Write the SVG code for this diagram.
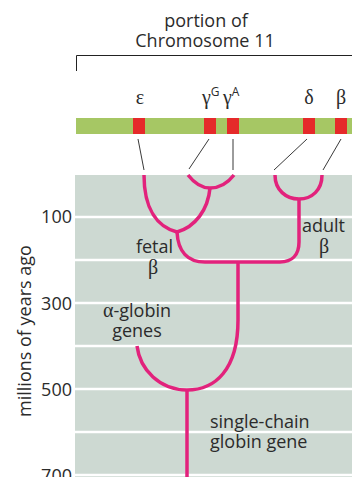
<svg xmlns="http://www.w3.org/2000/svg" width="352" height="477" viewBox="0 0 352 477">
<style>
text{font-family:"Open Sans","Liberation Sans",sans-serif;font-size:18px;fill:#2b2b2b}
.gr{font-family:"Liberation Serif","DejaVu Serif",serif;font-size:20px}
.t{fill:none;stroke:#e2227c;stroke-width:3.5;stroke-linecap:butt}
.k{fill:none;stroke:#222;stroke-width:0.9}
.g{fill:#e52a2a}
.w{stroke:#fff;stroke-width:2.5}
</style>
<rect width="352" height="477" fill="#fff"/>
<g id="title">
<text x="206" y="27" text-anchor="middle">portion of</text>
<text x="205" y="47" text-anchor="middle">Chromosome 11</text>
<path d="M76.5,71 V55.5 H352" fill="none" stroke="#222" stroke-width="1"/>
</g>
<g id="background">
<rect x="75" y="175" width="277" height="302" fill="#cdd9d2"/>
<line class="w" x1="75" y1="217" x2="352" y2="217"/>
<line class="w" x1="75" y1="260" x2="352" y2="260"/>
<line class="w" x1="75" y1="303" x2="352" y2="303"/>
<line class="w" x1="75" y1="346" x2="352" y2="346"/>
<line class="w" x1="75" y1="389" x2="352" y2="389"/>
<line class="w" x1="75" y1="432" x2="352" y2="432"/>
<line class="w" x1="75" y1="475" x2="352" y2="475"/>
</g>
<g id="axis">
<text x="72" y="223" text-anchor="end">100</text>
<text x="72" y="310" text-anchor="end">300</text>
<text x="72" y="396" text-anchor="end">500</text>
<text x="72" y="482" text-anchor="end">700</text>
<text transform="translate(31,331) rotate(-90)" text-anchor="middle">millions of years ago</text>
</g>
<g id="chromosome">
<rect x="76" y="118" width="276" height="16" fill="#a6c764"/>
<rect class="g" x="133" y="118" width="12" height="16"/>
<rect class="g" x="204" y="118" width="12" height="16"/>
<rect class="g" x="227" y="118" width="12" height="16"/>
<rect class="g" x="303" y="118" width="12" height="16"/>
<rect class="g" x="335" y="118" width="12" height="16"/>
</g>
<g id="gene-labels">
<text class="gr" x="140" y="104" text-anchor="middle">ε</text>
<text class="gr" x="202" y="104">γ<tspan font-family="Open Sans, sans-serif" font-size="12" dy="-8">G</tspan></text>
<text class="gr" x="223" y="104">γ<tspan font-family="Open Sans, sans-serif" font-size="12" dy="-8">A</tspan></text>
<text class="gr" x="309" y="104" text-anchor="middle">δ</text>
<text class="gr" x="341" y="104" text-anchor="middle">β</text>
</g>
<g id="connectors">
<line class="k" x1="138" y1="139" x2="144" y2="170"/>
<line class="k" x1="209" y1="139" x2="189" y2="169"/>
<line class="k" x1="233" y1="139" x2="233" y2="170"/>
<line class="k" x1="307" y1="139" x2="274" y2="170"/>
<line class="k" x1="341" y1="139" x2="323" y2="170"/>
<path class="t" d="M144,175 C144,210 158,227 177,232"/>
<path class="t" d="M188,175 C195,184 202,188 210,188 C219,188 227,184 234,175"/>
<path class="t" d="M210,188 C208,210 195,227 177,232"/>
<path class="t" d="M275,175 C275,190 286,199 299,199 C312,199 322,190 322,175"/>
<path class="t" d="M177,232 C178,252 188,262 205,262 H280 C292,262 299,255 299,242 V199"/>
<path class="t" d="M238,262 V320 C238,370 215,390 187,390 C160,390 140,370 137,346"/>
<path class="t" d="M187,390 V477"/>
</g>
<g id="tree-labels">
<text x="173" y="253" text-anchor="end">fetal</text>
<text class="gr" x="153" y="274" text-anchor="middle">β</text>
<text x="302" y="232">adult</text>
<text class="gr" x="324" y="253" text-anchor="middle">β</text>
<text x="137" y="317" text-anchor="middle"><tspan class="gr">α</tspan>-globin</text>
<text x="137" y="337" text-anchor="middle">genes</text>
<text x="210" y="428">single-chain</text>
<text x="210" y="448">globin gene</text>
</g>
</svg>
